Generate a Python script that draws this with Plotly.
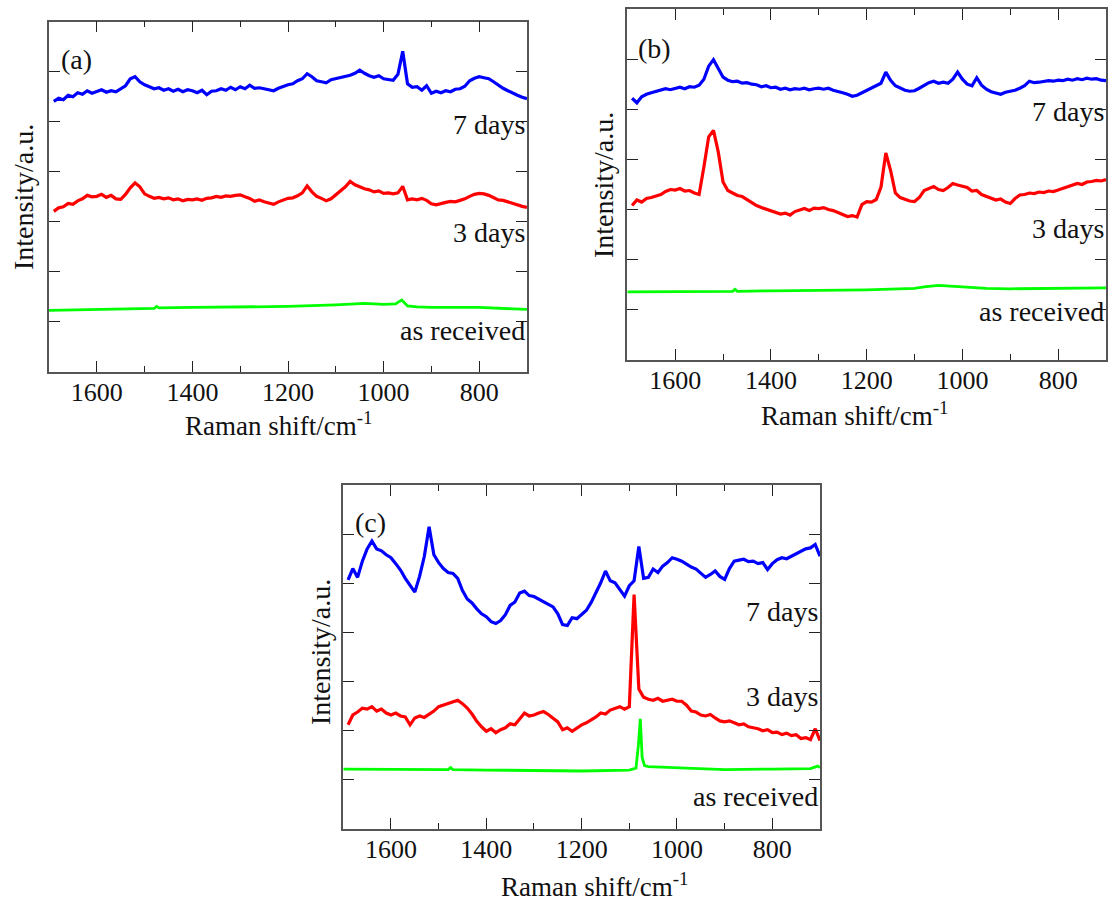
import plotly.graph_objects as go

# ---------------- data ----------------
shift = list(range(1690, 699, -10))  # Raman shift grid, cm-1 (1690 ... 700)

a_7days = [5.41, 5.47, 5.44, 5.53, 5.50, 5.58, 5.55, 5.62, 5.57, 5.61,
           5.64, 5.59, 5.62, 5.60, 5.66, 5.72, 5.86, 5.90, 5.80, 5.74,
           5.70, 5.66, 5.68, 5.63, 5.66, 5.61, 5.65, 5.60, 5.64, 5.62,
           5.58, 5.63, 5.54, 5.61, 5.62, 5.66, 5.63, 5.69, 5.64, 5.70,
           5.66, 5.73, 5.67, 5.68, 5.66, 5.64, 5.62, 5.67, 5.71, 5.74,
           5.76, 5.82, 5.86, 5.96, 5.90, 5.82, 5.80, 5.78, 5.84, 5.86,
           5.88, 5.91, 5.93, 5.97, 6.03, 5.97, 5.92, 5.89, 5.92, 5.86,
           5.85, 5.83, 5.95, 6.41, 5.76, 5.69, 5.70, 5.63, 5.72, 5.57,
           5.61, 5.58, 5.62, 5.60, 5.65, 5.66, 5.71, 5.82, 5.87, 5.90,
           5.88, 5.86, 5.80, 5.73, 5.67, 5.62, 5.57, 5.53, 5.49, 5.46]
a_3days = [3.21, 3.28, 3.30, 3.37, 3.35, 3.42, 3.46, 3.53, 3.50, 3.51,
           3.55, 3.49, 3.53, 3.46, 3.45, 3.55, 3.68, 3.78, 3.70, 3.56,
           3.51, 3.47, 3.49, 3.46, 3.48, 3.44, 3.46, 3.42, 3.45, 3.44,
           3.46, 3.43, 3.47, 3.48, 3.51, 3.49, 3.52, 3.51, 3.53, 3.54,
           3.50, 3.47, 3.41, 3.44, 3.40, 3.37, 3.35, 3.40, 3.43, 3.47,
           3.48, 3.52, 3.58, 3.72, 3.60, 3.51, 3.47, 3.42, 3.46, 3.54,
           3.60, 3.70, 3.81, 3.74, 3.70, 3.66, 3.64, 3.60, 3.62, 3.57,
           3.58, 3.56, 3.58, 3.71, 3.44, 3.46, 3.44, 3.47, 3.43, 3.36,
           3.34, 3.37, 3.39, 3.41, 3.40, 3.43, 3.46, 3.51, 3.55, 3.57,
           3.56, 3.53, 3.48, 3.44, 3.43, 3.40, 3.36, 3.33, 3.31, 3.29]
a_received_x = [1700, 1600, 1480, 1475, 1470, 1400, 1300, 1200, 1100, 1060,
                1040, 1000, 975, 962, 950, 930, 900, 800, 700]
a_received_y = [1.23, 1.25, 1.27, 1.31, 1.28, 1.29, 1.30, 1.31, 1.34, 1.37,
                1.37, 1.35, 1.36, 1.44, 1.32, 1.30, 1.29, 1.29, 1.25]

b_7days = [5.22, 5.13, 5.25, 5.30, 5.33, 5.36, 5.38, 5.41, 5.39, 5.42,
           5.44, 5.41, 5.45, 5.44, 5.48, 5.60, 5.86, 5.99, 5.80, 5.64,
           5.58, 5.55, 5.56, 5.52, 5.53, 5.50, 5.49, 5.45, 5.47, 5.43,
           5.44, 5.40, 5.42, 5.39, 5.41, 5.40, 5.42, 5.39, 5.41, 5.42,
           5.40, 5.42, 5.38, 5.36, 5.33, 5.30, 5.26, 5.28, 5.33, 5.38,
           5.43, 5.47, 5.52, 5.74, 5.58, 5.47, 5.42, 5.38, 5.36, 5.37,
           5.42, 5.47, 5.53, 5.56, 5.52, 5.54, 5.52, 5.60, 5.74, 5.60,
           5.50, 5.47, 5.63, 5.48, 5.40, 5.35, 5.32, 5.30, 5.34, 5.36,
           5.38, 5.42, 5.47, 5.56, 5.53, 5.54, 5.55, 5.57, 5.56, 5.58,
           5.57, 5.60, 5.58, 5.61, 5.59, 5.62, 5.60, 5.61, 5.58, 5.57]
b_3days = [3.08, 3.19, 3.15, 3.22, 3.24, 3.27, 3.30, 3.36, 3.40, 3.39,
           3.42, 3.37, 3.38, 3.33, 3.30, 3.85, 4.45, 4.58, 4.15, 3.55,
           3.38, 3.33, 3.28, 3.26, 3.20, 3.15, 3.08, 3.04, 3.01, 2.97,
           2.95, 2.91, 2.93, 2.89, 2.96, 2.99, 3.02, 2.98, 3.03, 3.02,
           3.04, 3.00, 2.98, 2.94, 2.90, 2.86, 2.88, 2.85, 3.10, 3.16,
           3.15, 3.20, 3.45, 4.13, 3.78, 3.33, 3.24, 3.20, 3.17, 3.16,
           3.24, 3.38, 3.42, 3.46, 3.40, 3.38, 3.44, 3.52, 3.49, 3.47,
           3.44, 3.37, 3.38, 3.30, 3.26, 3.22, 3.19, 3.21, 3.15, 3.12,
           3.22, 3.29, 3.30, 3.33, 3.32, 3.35, 3.34, 3.37, 3.36, 3.39,
           3.42, 3.45, 3.48, 3.52, 3.50, 3.55, 3.56, 3.58, 3.57, 3.60]
b_received_x = [1700, 1600, 1480, 1475, 1470, 1400, 1300, 1200, 1100, 1080,
                1050, 1030, 1000, 950, 900, 800, 700]
b_received_y = [1.36, 1.37, 1.37, 1.41, 1.37, 1.38, 1.39, 1.40, 1.43, 1.46,
                1.49, 1.48, 1.45, 1.43, 1.42, 1.43, 1.44]

c_7days = [5.07, 5.30, 5.12, 5.45, 5.70, 5.86, 5.70, 5.66, 5.58, 5.52,
           5.40, 5.27, 5.10, 4.95, 4.82, 5.14, 5.55, 6.15, 5.58, 5.42,
           5.30, 5.22, 5.20, 5.10, 4.85, 4.68, 4.60, 4.48, 4.38, 4.32,
           4.22, 4.18, 4.24, 4.36, 4.55, 4.62, 4.80, 4.84, 4.75, 4.73,
           4.68, 4.62, 4.58, 4.52, 4.38, 4.16, 4.14, 4.30, 4.28, 4.36,
           4.45, 4.61, 4.80, 5.01, 5.25, 5.05, 5.01, 4.88, 4.74, 4.95,
           5.05, 5.75, 5.10, 5.12, 5.29, 5.22, 5.35, 5.42, 5.52, 5.49,
           5.45, 5.39, 5.33, 5.29, 5.20, 5.12, 5.18, 5.25, 5.14, 5.08,
           5.30, 5.45, 5.47, 5.49, 5.44, 5.45, 5.40, 5.42, 5.28, 5.40,
           5.48, 5.52, 5.50, 5.55, 5.60, 5.65, 5.70, 5.72, 5.79, 5.55]
c_3days = [2.12, 2.32, 2.38, 2.46, 2.44, 2.49, 2.40, 2.44, 2.36, 2.32,
           2.36, 2.30, 2.28, 2.12, 2.26, 2.30, 2.27, 2.33, 2.40, 2.49,
           2.52, 2.55, 2.58, 2.62, 2.55, 2.46, 2.34, 2.19, 2.08, 1.99,
           2.04, 1.96, 2.02, 2.06, 2.14, 2.12, 2.24, 2.36, 2.30, 2.32,
           2.36, 2.39, 2.33, 2.26, 2.18, 2.02, 2.06, 1.99, 2.05, 2.12,
           2.16, 2.22, 2.28, 2.36, 2.34, 2.42, 2.45, 2.49, 2.44, 2.49,
           4.77, 2.85, 2.68, 2.64, 2.62, 2.66, 2.60, 2.62, 2.64, 2.60,
           2.60, 2.52, 2.40, 2.38, 2.32, 2.30, 2.33, 2.26, 2.20, 2.18,
           2.20, 2.16, 2.12, 2.14, 2.08, 2.06, 2.04, 2.00, 2.02, 1.96,
           1.97, 1.92, 1.95, 1.90, 1.92, 1.84, 1.86, 1.82, 2.04, 1.80]
c_received_x = [1700, 1600, 1480, 1475, 1470, 1400, 1300, 1200, 1100, 1086,
                1081, 1077, 1073, 1068, 1060, 1000, 900, 800, 720, 705, 700]
c_received_y = [1.22, 1.21, 1.21, 1.25, 1.21, 1.20, 1.19, 1.18, 1.20, 1.24,
                1.70, 2.24, 1.45, 1.29, 1.27, 1.25, 1.21, 1.22, 1.23, 1.28, 1.25]

panel_tags = ["(a)", "(b)", "(c)"]
sample_names = ["7 days", "3 days", "as received"]
x_tick_values = [1600, 1400, 1200, 1000, 800]
x_minor_values = [1700, 1500, 1300, 1100, 900, 700]
y_tick_values = [1, 2, 3, 4, 5, 6]

# ---------------- layout helpers (pixel geometry of the reference) ----------------
W, H = 1110, 901
FONT = "Liberation Serif"
BLUE, RED, GREEN = "#0000ff", "#ff0000", "#00ff00"


def fx(p):
    return p / W


def fy(p):
    return 1 - p / H


panels = [
    dict(frame=(49, 527, 21.7, 372), series=(a_7days, a_3days, a_received_x, a_received_y),
         text_y=(4.94, 2.78, 0.82), tag_xy=(76, 60), xt=(278, 424), yt=(24, 197)),
    dict(frame=(627.3, 1106, 9, 360), series=(b_7days, b_3days, b_received_x, b_received_y),
         text_y=(4.95, 2.63, 0.96), tag_xy=(654, 49), xt=(854, 414), yt=(603, 185)),
    dict(frame=(343.3, 820, 485, 829), series=(c_7days, c_3days, c_received_x, c_received_y),
         text_y=(4.42, 2.69, 0.67), tag_xy=(370, 522), xt=(594, 885), yt=(320, 652)),
]

fig = go.Figure()
annotations = []
layout = {}

for i, p in enumerate(panels):
    n = "" if i == 0 else str(i + 1)
    xa, ya = "x" + n, "y" + n
    seven, three, rx, ry = p["series"]
    fig.add_trace(go.Scatter(x=shift, y=seven, mode="lines", xaxis=xa, yaxis=ya,
                             line=dict(color=BLUE, width=3.2), showlegend=False))
    fig.add_trace(go.Scatter(x=shift, y=three, mode="lines", xaxis=xa, yaxis=ya,
                             line=dict(color=RED, width=3.2), showlegend=False))
    fig.add_trace(go.Scatter(x=rx, y=ry, mode="lines", xaxis=xa, yaxis=ya,
                             line=dict(color=GREEN, width=2.8), showlegend=False))

    l, r, t, b = p["frame"]
    layout["xaxis" + n] = dict(
        domain=[fx(l), fx(r)], anchor=ya, range=[1700, 700],
        tickmode="array", tickvals=x_tick_values, ticks="inside", ticklen=11,
        tickwidth=1.3, tickcolor="#222", showline=True, linecolor="#555",
        linewidth=1.5, mirror="ticks", showgrid=False, zeroline=False,
        tickfont=dict(family=FONT, size=26, color="#111"), ticklabelstandoff=-4,
        minor=dict(tickvals=x_minor_values, ticks="inside", ticklen=6,
                   tickwidth=1.3, tickcolor="#222", showgrid=False),
        fixedrange=True,
    )
    layout["yaxis" + n] = dict(
        domain=[fy(b), fy(t)], anchor=xa, range=[0, 7],
        tickmode="array", tickvals=y_tick_values, ticks="inside", ticklen=11,
        tickwidth=1.3, tickcolor="#222", showticklabels=False, showline=True,
        linecolor="#555", linewidth=1.5, mirror="ticks", showgrid=False,
        zeroline=False, fixedrange=True,
    )

    for name, yv in zip(sample_names, p["text_y"]):
        annotations.append(dict(x=700, y=yv, xref=xa, yref=ya, text=name,
                                showarrow=False, xanchor="right", yanchor="middle",
                                font=dict(family=FONT, size=28, color="#111")))
    annotations.append(dict(x=fx(p["tag_xy"][0]), y=fy(p["tag_xy"][1]), xref="paper",
                            yref="paper", text=panel_tags[i], showarrow=False,
                            xanchor="center", yanchor="middle",
                            font=dict(family=FONT, size=28, color="#111")))
    annotations.append(dict(x=fx(p["xt"][0]), y=fy(p["xt"][1]), xref="paper", yref="paper",
                            text="Raman shift/cm<sup>-1</sup>", showarrow=False,
                            xanchor="center", yanchor="middle",
                            font=dict(family=FONT, size=27, color="#111")))
    annotations.append(dict(x=fx(p["yt"][0]), y=fy(p["yt"][1]), xref="paper", yref="paper",
                            text="Intensity/a.u.", showarrow=False, textangle=-90,
                            xanchor="center", yanchor="middle",
                            font=dict(family=FONT, size=28, color="#111")))

fig.update_layout(
    width=W, height=H, margin=dict(l=0, r=0, t=0, b=0),
    paper_bgcolor="white", plot_bgcolor="white",
    annotations=annotations, showlegend=False, **layout,
)

fig.write_html("out.html", config={"displayModeBar": False},
               post_script="document.body.style.margin='0';document.body.style.overflow='hidden';")
